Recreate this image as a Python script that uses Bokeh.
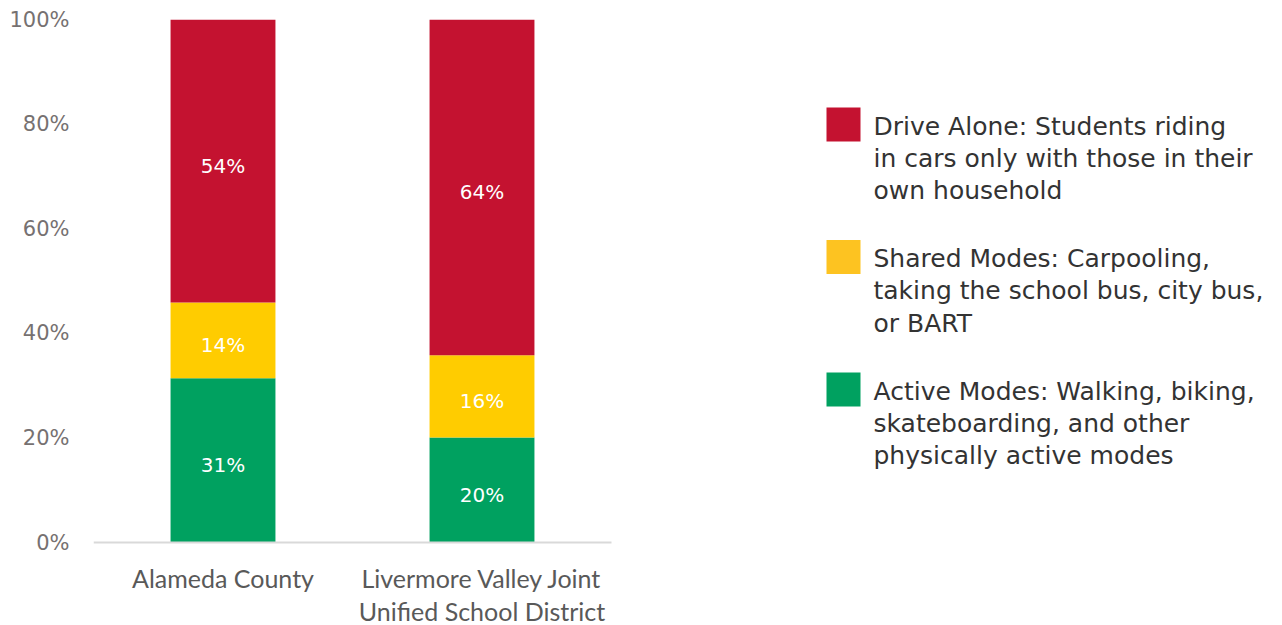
from bokeh.plotting import figure
from bokeh.models import ColumnDataSource, Range1d, FixedTicker, PrintfTickFormatter
from bokeh.embed import file_html
from bokeh.resources import INLINE
from bokeh.core.properties import value

categories = ["Alameda County", "Livermore Valley Joint\nUnified School District"]
active = [31.4, 20.1]
shared = [14.5, 15.7]
drive = [54.1, 64.2]
active_labels = ["31%", "20%"]
shared_labels = ["14%", "16%"]
drive_labels = ["54%", "64%"]
series = ["active", "shared", "drive"]
bar_colors = ["#00A160", "#FFCC00", "#C41230"]
legend_colors = ["#C41230", "#FDC321", "#00A160"]
legend_texts = [
    "Drive Alone: Students riding\nin cars only with those in their\nown household",
    "Shared Modes: Carpooling,\ntaking the school bus, city bus,\nor BART",
    "Active Modes: Walking, biking,\nskateboarding, and other\nphysically active modes",
]
y_ticks = [0, 20, 40, 60, 80, 100]

# layout (screen pixels of the picture)
ORG_X, ORG_Y = 2, 1          # where the figure's top-left lands in the picture
W, H = 1266, 624
FRAME_L, FRAME_T, FRAME_B = 95, 20, 543
CAT_PX = 259.0
PCT_PX = (FRAME_B - FRAME_T) / 100.0
frame_w = ORG_X + W - FRAME_L
frame_bottom = ORG_Y + H


def xd(px):
    return -0.5 + (px - FRAME_L) / CAT_PX


def yd(py):
    return (FRAME_B - py) / PCT_PX


xpos = list(range(len(categories)))
src = ColumnDataSource(dict(x=xpos, active=active, shared=shared, drive=drive))

p = figure(x_range=Range1d(-0.5, -0.5 + frame_w / CAT_PX),
           y_range=Range1d(yd(frame_bottom), 100),
           width=W, height=H, output_backend="svg", toolbar_location=None,
           min_border_left=FRAME_L - ORG_X, min_border_right=0,
           min_border_top=FRAME_T - ORG_Y, min_border_bottom=0)
p.outline_line_color = None
p.grid.grid_line_color = None
p.xaxis.visible = False

p.vbar_stack(series, x="x", width=0.405, color=bar_colors, source=src, line_color=None)

# baseline under the categories
p.segment(x0=[-0.5], y0=[0], x1=[len(categories) - 0.5], y1=[0],
          line_color="#D9D9D9", line_width=2)

# category labels
p.text(x=xpos, y=[yd(563)] * len(xpos), text=categories, text_color="#595959",
       text_align="center", text_baseline="top", text_font=value("Lato"),
       text_font_size="25px", text_line_height=1.1)

# segment labels
lab_x, lab_y, lab_t = [], [], []
for i in xpos:
    base = 0
    for vals, labs in ((active, active_labels), (shared, shared_labels), (drive, drive_labels)):
        lab_x.append(i)
        lab_y.append(base + vals[i] / 2)
        lab_t.append(labs[i])
        base += vals[i]
p.text(x=lab_x, y=lab_y, text=lab_t, text_color="white", text_align="center",
       text_baseline="middle", y_offset=5, text_font=value("DejaVu Sans"),
       text_font_size="20px")

p.yaxis.ticker = FixedTicker(ticks=y_ticks)
p.yaxis.formatter = PrintfTickFormatter(format="%d%%")
p.yaxis.axis_line_color = None
p.yaxis.major_tick_line_color = None
p.yaxis.minor_tick_line_color = None
p.yaxis.major_tick_out = 0
p.yaxis.major_tick_in = 0
p.yaxis.major_label_text_color = "#767171"
p.yaxis.major_label_text_font = "DejaVu Sans"
p.yaxis.major_label_text_font_size = "21px"
p.yaxis.major_label_standoff = 24

# legend
step = 132.5
sw_y = [yd(125 + i * step) for i in range(len(legend_texts))]
tx_y = [yd(112 + i * step) for i in range(len(legend_texts))]
p.rect(x=[xd(845)] * len(legend_texts), y=sw_y, width=34, height=34,
       width_units="screen", height_units="screen", color=legend_colors, line_color=None)
p.text(x=[xd(875)] * len(legend_texts), y=tx_y, text=legend_texts, text_color="#333333",
       text_align="left", text_baseline="top", text_font=value("DejaVu Sans"),
       text_font_size="25px", text_line_height=1.12)

open("out.html", "w").write(file_html(p, INLINE))
